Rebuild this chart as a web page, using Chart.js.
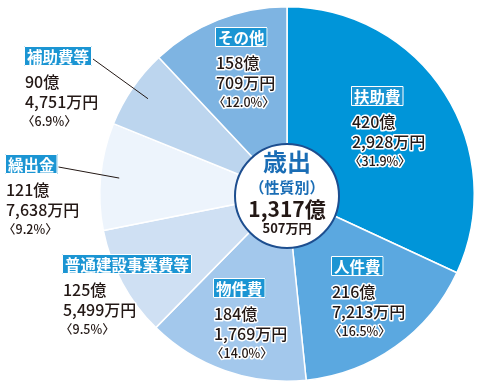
<!DOCTYPE html>
<html><head><meta charset="utf-8">
<script src="https://cdn.jsdelivr.net/npm/chart.js@4/dist/chart.umd.min.js"></script>
<style>html,body{margin:0;padding:0;background:#fff;}#c{display:block}</style>
</head><body>
<canvas id="c" width="481" height="388"></canvas>
<script>
const categories = ['扶助費','人件費','物件費','普通建設事業費等','繰出金','補助費等','その他'];
const okuValues = [420,216,184,125,121,90,158];
const manValues = [2928,7213,1769,5499,7638,4751,709];
const percents = [31.9,16.5,14.0,9.5,9.2,6.9,12.0];
const totalOku = 1317;
const totalMan = 507;
const centerTitle = '歳出';
const centerSub = '（性質別）';

const colors = ['#0095d9','#5ba8e0','#a3c8ec','#cfe0f3','#edf4fc','#bcd5ee','#7eb4e2'];
// label layout: left x, box centre y, leader line
const layout = [
  {x:351, y:96},
  {x:331, y:266},
  {x:213, y:288},
  {x:62,  y:264},
  {x:5,   y:164, leader:true},
  {x:24,  y:56,  leader:true},
  {x:215, y:37}
];
const FONT = '"Noto Sans CJK JP","Noto Sans",sans-serif';
const fmt = n => n.toLocaleString('en-US');

const labelPlugin = {
  id:'labels',
  afterDraw(chart){
    const ctx = chart.ctx;
    const meta = chart.getDatasetMeta(0);
    const a0 = meta.data[0];
    const cx = a0.x, cy = a0.y, R = a0.outerRadius;
    ctx.save();
    ctx.textBaseline = 'middle';
    ctx.textAlign = 'left';
    ctx.lineJoin = 'round';
    categories.forEach((name,i)=>{
      const L = layout[i];
      ctx.font = 'bold 15.5px ' + FONT;
      const w = ctx.measureText(name).width + 6;
      const h = 20;
      const bx = L.x, by = L.y - h/2;
      if (L.leader){
        const a = meta.data[i];
        const mid = (a.startAngle + a.endAngle)/2;
        ctx.beginPath();
        ctx.moveTo(bx + w + 1, L.y + 3);
        ctx.lineTo(cx + Math.cos(mid)*R*0.9, cy + Math.sin(mid)*R*0.9);
        ctx.strokeStyle = '#231815';
        ctx.lineWidth = 1;
        ctx.stroke();
      }
      ctx.fillStyle = '#1b95d3';
      ctx.fillRect(bx, by, w, h);
      ctx.strokeStyle = '#ffffff';
      ctx.lineWidth = 1;
      ctx.strokeRect(bx+0.5, by+0.5, w-1, h-1);
      ctx.fillStyle = '#ffffff';
      ctx.fillText(name, bx + 3, L.y + 1);
      const lines = [
        {t: okuValues[i] + '億', f: '500 16px ', dy: 26},
        {t: fmt(manValues[i]) + '万円', f: '500 16px ', dy: 46},
        {t: '〈' + percents[i].toFixed(1) + '%〉', f: '500 12.5px ', dy: 65, dx:-3}
      ];
      lines.forEach(l=>{
        ctx.font = l.f + FONT;
        ctx.strokeStyle = '#ffffff';
        ctx.lineWidth = 3;
        const tx = bx + 1 + (l.dx||0);
        ctx.strokeText(l.t, tx, L.y + l.dy);
        ctx.fillStyle = '#231815';
        ctx.fillText(l.t, tx, L.y + l.dy);
      });
    });
    // centre circle
    ctx.beginPath();
    ctx.arc(cx, cy + 2, 52, 0, Math.PI*2);
    ctx.fillStyle = '#ffffff';
    ctx.fill();
    ctx.strokeStyle = '#1d4e8f';
    ctx.lineWidth = 2;
    ctx.stroke();
    ctx.textAlign = 'center';
    ctx.fillStyle = '#1a6db5';
    ctx.font = 'bold 24px ' + FONT;
    ctx.fillText(centerTitle, cx, cy - 32);
    ctx.font = 'bold 15px ' + FONT;
    ctx.fillText(centerSub, cx, cy - 7);
    ctx.fillStyle = '#231815';
    ctx.font = 'bold 21px ' + FONT;
    ctx.fillText(fmt(totalOku) + '億', cx, cy + 15);
    ctx.font = 'bold 13px ' + FONT;
    ctx.fillText(totalMan + '万円', cx, cy + 34);
    ctx.restore();
  }
};

new Chart(document.getElementById('c'), {
  type: 'pie',
  data: {
    labels: categories,
    datasets: [{
      data: okuValues.map((v,i)=> v + manValues[i]/10000),
      backgroundColor: colors,
      borderColor: '#ffffff',
      borderWidth: 1.5
    }]
  },
  options: {
    responsive: false,
    animation: false,
    layout: {padding: {left: 99, top: 6, right: 6, bottom: 6}},
    plugins: {legend: {display: false}, tooltip: {enabled: false}}
  },
  plugins: [labelPlugin]
});
</script>
</body></html>
